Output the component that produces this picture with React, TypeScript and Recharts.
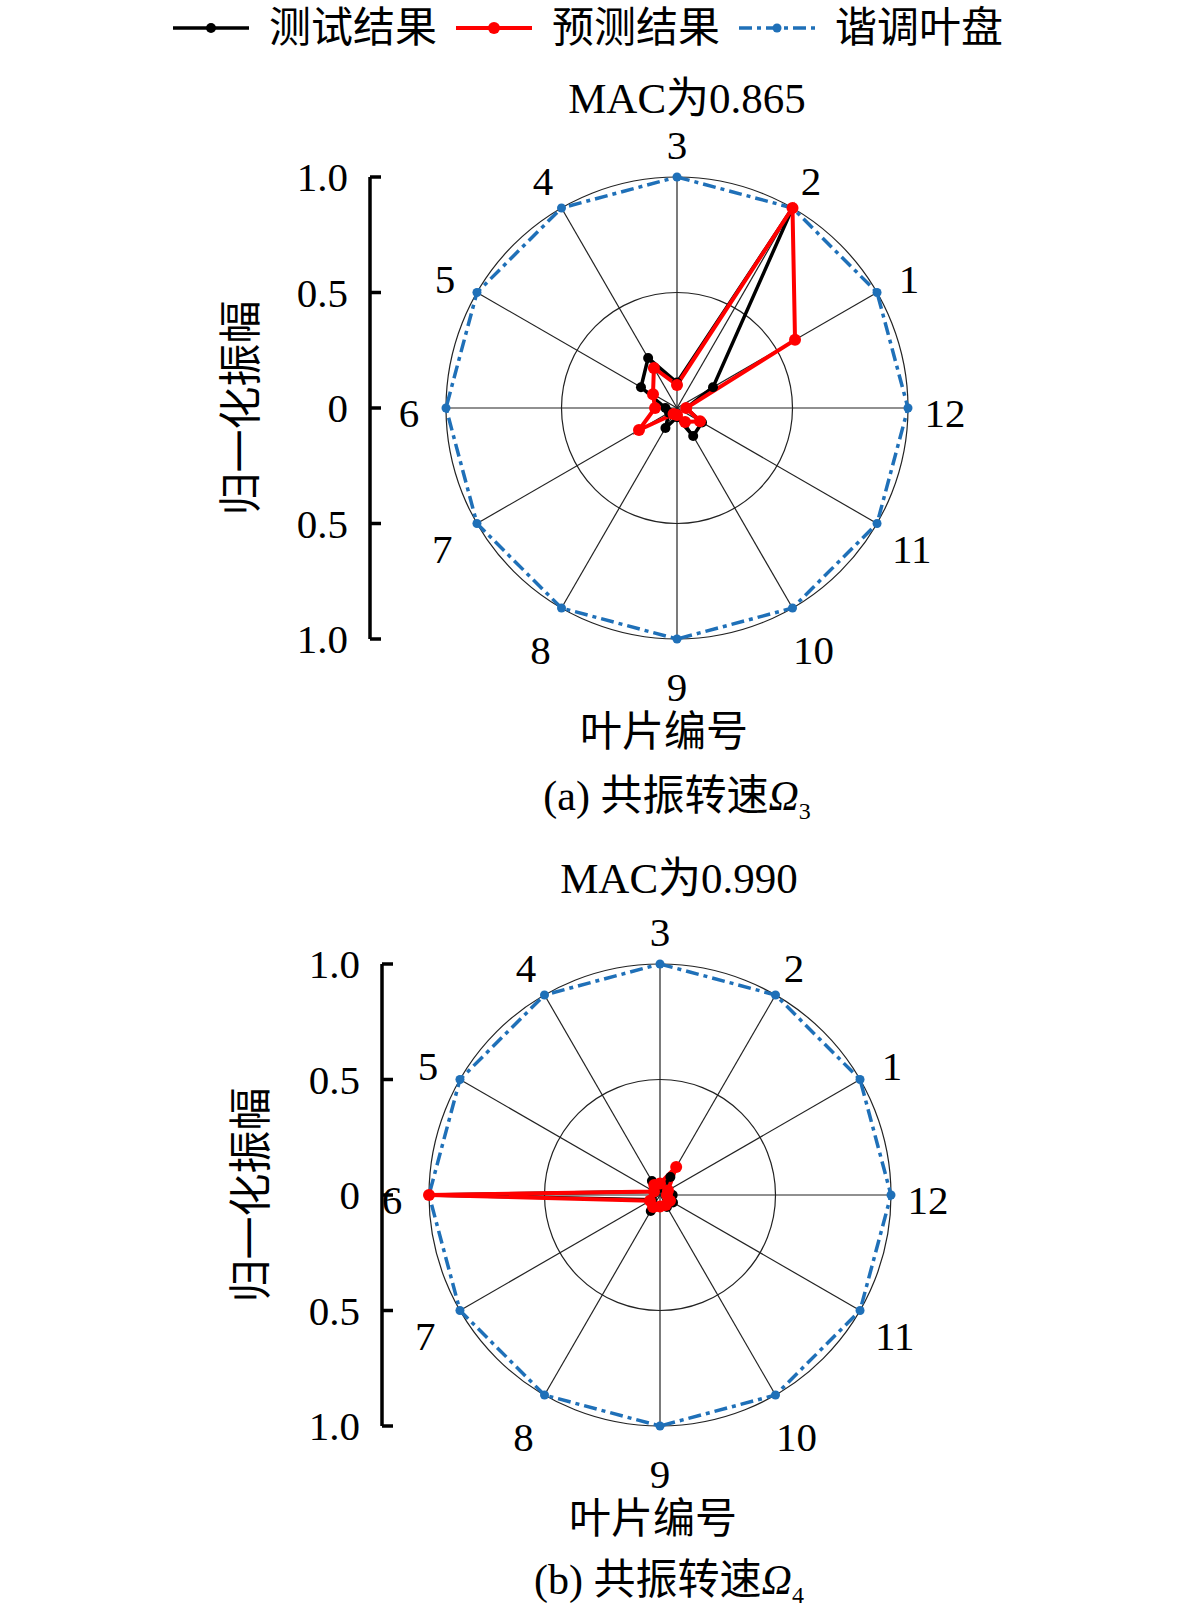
import React from "react"
import {
  RadarChart,
  Radar,
  PolarGrid,
  PolarAngleAxis,
  PolarRadiusAxis,
  Legend,
  ComposedChart,
  YAxis,
  Line,
} from "recharts"

// blade numbers, clockwise from the top as they appear round the disk
const bladeOrder = [3, 2, 1, 12, 11, 10, 9, 8, 7, 6, 5, 4]

// values below are listed for blades 1..12
// 共振转速 Ω3
const testOmega3 = [0.18, 1.0, 0.11, 0.25, 0.18, 0.05, 0.04, 0.1, 0.04, 0.14, 0.125, 0.04]
const predOmega3 = [0.59, 1.0, 0.1, 0.2, 0.12, 0.095, 0.19, 0.03, 0.03, 0.07, 0.115, 0.04]
// 共振转速 Ω4
const testOmega4 = [0.03, 0.09, 0.03, 0.07, 0.03, 1.0, 0.04, 0.08, 0.05, 0.06, 0.065, 0.055]
const predOmega4 = [0.04, 0.14, 0.05, 0.05, 0.03, 1.0, 0.05, 0.06, 0.05, 0.05, 0.05, 0.03]
// 谐调叶盘
const tunedDisk = [1, 1, 1, 1, 1, 1, 1, 1, 1, 1, 1, 1]

const ampTicks = [-1, -0.5, 0, 0.5, 1]
const ringTicks = [0, 0.5, 1]

const FONT = "'Liberation Serif', 'Noto Sans CJK SC', serif"
const BLUE = "#1f70b8"
const RADIUS = 231

const seriesStyle: Record<string, { name: string; color: string; width: number; dot: number; dash?: string }> = {
  test: { name: "测试结果", color: "#000000", width: 3.5, dot: 5 },
  pred: { name: "预测结果", color: "#ff0000", width: 4, dot: 6 },
  tuned: { name: "谐调叶盘", color: BLUE, width: 3.5, dot: 4.5, dash: "13 5 4 5" },
}
const legendOrder = ["test", "pred", "tuned"]

function LegendContent() {
  return (
    <div style={{ display: "flex", justifyContent: "center", alignItems: "center", fontFamily: FONT, paddingLeft: 14 }}>
      {legendOrder.map((key) => {
        const s = seriesStyle[key]
        return (
          <div key={key} style={{ display: "flex", alignItems: "center", marginRight: 19 }}>
            <svg width={76} height={20}>
              <line x1={0} x2={76} y1={10} y2={10} stroke={s.color} strokeWidth={s.width} strokeDasharray={s.dash} />
              <circle cx={38} cy={10} r={s.dot} fill={s.color} />
            </svg>
            <span style={{ marginLeft: 20, fontSize: 42, lineHeight: 1 }}>{s.name}</span>
          </div>
        )
      })}
    </div>
  )
}

function bladeTick(cx: number, cy: number) {
  return (props: any) => {
    const dx = props.x - cx
    const dy = props.y - cy
    const len = Math.sqrt(dx * dx + dy * dy) || 1
    const ux = dx / len
    const uy = dy / len
    const r = RADIUS + 37 + (uy > 0 ? 6 * uy : 0)
    const x = cx + r * ux
    const y = cy + r * uy + 5
    return (
      <text x={x} y={y} dy="0.35em" textAnchor="middle" fontSize={41} fontFamily={FONT} fill="#000">
        {props.payload.value}
      </text>
    )
  }
}

function renderAmpTick(props: any) {
  const { x, y, payload } = props
  const v = payload.value
  const label = v === 0 ? "0" : Math.abs(v).toFixed(1)
  return (
    <g>
      <line x1={x + 22} x2={x + 33} y1={y} y2={y} stroke="#000" strokeWidth={3.5} />
      <text x={x} y={y} dy="0.35em" textAnchor="end" fontSize={41} fontFamily={FONT} fill="#000">
        {label}
      </text>
    </g>
  )
}

function AmplitudeAxis({ axisX, cy, labelX }: { axisX: number; cy: number; labelX: number }) {
  const W = 170
  const m = 40
  const localLabelX = labelX - (axisX - W)
  return (
    <div style={{ position: "absolute", left: axisX - W, top: cy - RADIUS - m }}>
      <ComposedChart
        width={W + 30}
        height={2 * RADIUS + 2 * m}
        data={ampTicks.map((v) => ({ v }))}
        margin={{ top: m, bottom: m, left: 0, right: 30 }}
      >
        <YAxis
          type="number"
          dataKey="v"
          domain={[-1, 1]}
          ticks={ampTicks}
          interval={0}
          width={W}
          tickSize={0}
          tickMargin={22}
          tickLine={false}
          axisLine={{ stroke: "#000", strokeWidth: 3.5 }}
          tick={renderAmpTick}
          label={{
            value: "归一化振幅",
            content: (p: any) => {
              const y = p.viewBox.y + p.viewBox.height / 2
              return (
                <text
                  x={localLabelX}
                  y={y}
                  transform={`rotate(-90 ${localLabelX} ${y})`}
                  textAnchor="middle"
                  dominantBaseline="central"
                  fontSize={43}
                  fontFamily={FONT}
                  fill="#000"
                >
                  归一化振幅
                </text>
              )
            },
          }}
        />
        <Line dataKey="v" stroke="none" dot={false} activeDot={false} isAnimationActive={false} />
      </ComposedChart>
    </div>
  )
}

function Caption({ x, y, size, children }: { x: number; y: number; size: number; children: React.ReactNode }) {
  return (
    <div
      style={{
        position: "absolute",
        left: x,
        top: y,
        transform: "translate(-50%, -50%)",
        whiteSpace: "nowrap",
        fontFamily: FONT,
        fontSize: size,
        lineHeight: 1,
        color: "#000",
      }}
    >
      {children}
    </div>
  )
}

interface PanelProps {
  top: number
  cx: number
  axisX: number
  yLabelX: number
  test: number[]
  pred: number[]
  mac: string
  macPos: [number, number]
  xLabelPos: [number, number]
  captionPos: [number, number]
  letter: string
  sub: string
  showLegend?: boolean
}

function Panel(p: PanelProps) {
  const cy = 408
  const data = bladeOrder.map((b) => ({
    blade: String(b),
    test: p.test[b - 1],
    pred: p.pred[b - 1],
    tuned: tunedDisk[b - 1],
  }))
  return (
    <div style={{ position: "absolute", left: 0, top: p.top, width: 1181, height: 830 }}>
      <RadarChart width={1181} height={830} data={data} cx={p.cx} cy={cy} outerRadius={RADIUS}>
        <PolarGrid gridType="circle" stroke="#222" strokeWidth={1.2} />
        <PolarAngleAxis dataKey="blade" axisLine={false} tickLine={false} tick={bladeTick(p.cx, cy)} />
        <PolarRadiusAxis type="number" domain={[0, 1]} ticks={ringTicks} tick={false} axisLine={false} />
        {["tuned", "test", "pred"].map((key) => {
          const s = seriesStyle[key]
          return (
            <Radar
              key={key}
              name={s.name}
              dataKey={key}
              stroke={s.color}
              strokeWidth={s.width}
              strokeDasharray={s.dash}
              fill="none"
              dot={{ r: s.dot, fill: s.color, stroke: "none" }}
              isAnimationActive={false}
            />
          )
        })}
        {p.showLegend && (
          <Legend verticalAlign="top" content={<LegendContent />} wrapperStyle={{ top: 7, left: 0, width: 1181 }} />
        )}
      </RadarChart>
      <AmplitudeAxis axisX={p.axisX} cy={cy} labelX={p.yLabelX} />
      <Caption x={p.macPos[0]} y={p.macPos[1]} size={43}>
        {p.mac}
      </Caption>
      <Caption x={p.xLabelPos[0]} y={p.xLabelPos[1]} size={42}>
        叶片编号
      </Caption>
      <Caption x={p.captionPos[0]} y={p.captionPos[1]} size={42}>
        ({p.letter}) 共振转速<i>Ω</i>
        <sub style={{ fontSize: 24 }}>{p.sub}</sub>
      </Caption>
    </div>
  )
}

export default function App() {
  return (
    <div style={{ position: "absolute", left: 0, top: 0, width: 1181, height: 1621, background: "#fff" }}>
      <Panel
        top={0}
        cx={677}
        axisX={370}
        yLabelX={241}
        test={testOmega3}
        pred={predOmega3}
        mac="MAC为0.865"
        macPos={[687, 98]}
        xLabelPos={[664, 732]}
        captionPos={[677, 799]}
        letter="a"
        sub="3"
        showLegend
      />
      <Panel
        top={787}
        cx={660}
        axisX={382}
        yLabelX={251}
        test={testOmega4}
        pred={predOmega4}
        mac="MAC为0.990"
        macPos={[679, 91]}
        xLabelPos={[653, 732]}
        captionPos={[669, 796]}
        letter="b"
        sub="4"
      />
    </div>
  )
}
